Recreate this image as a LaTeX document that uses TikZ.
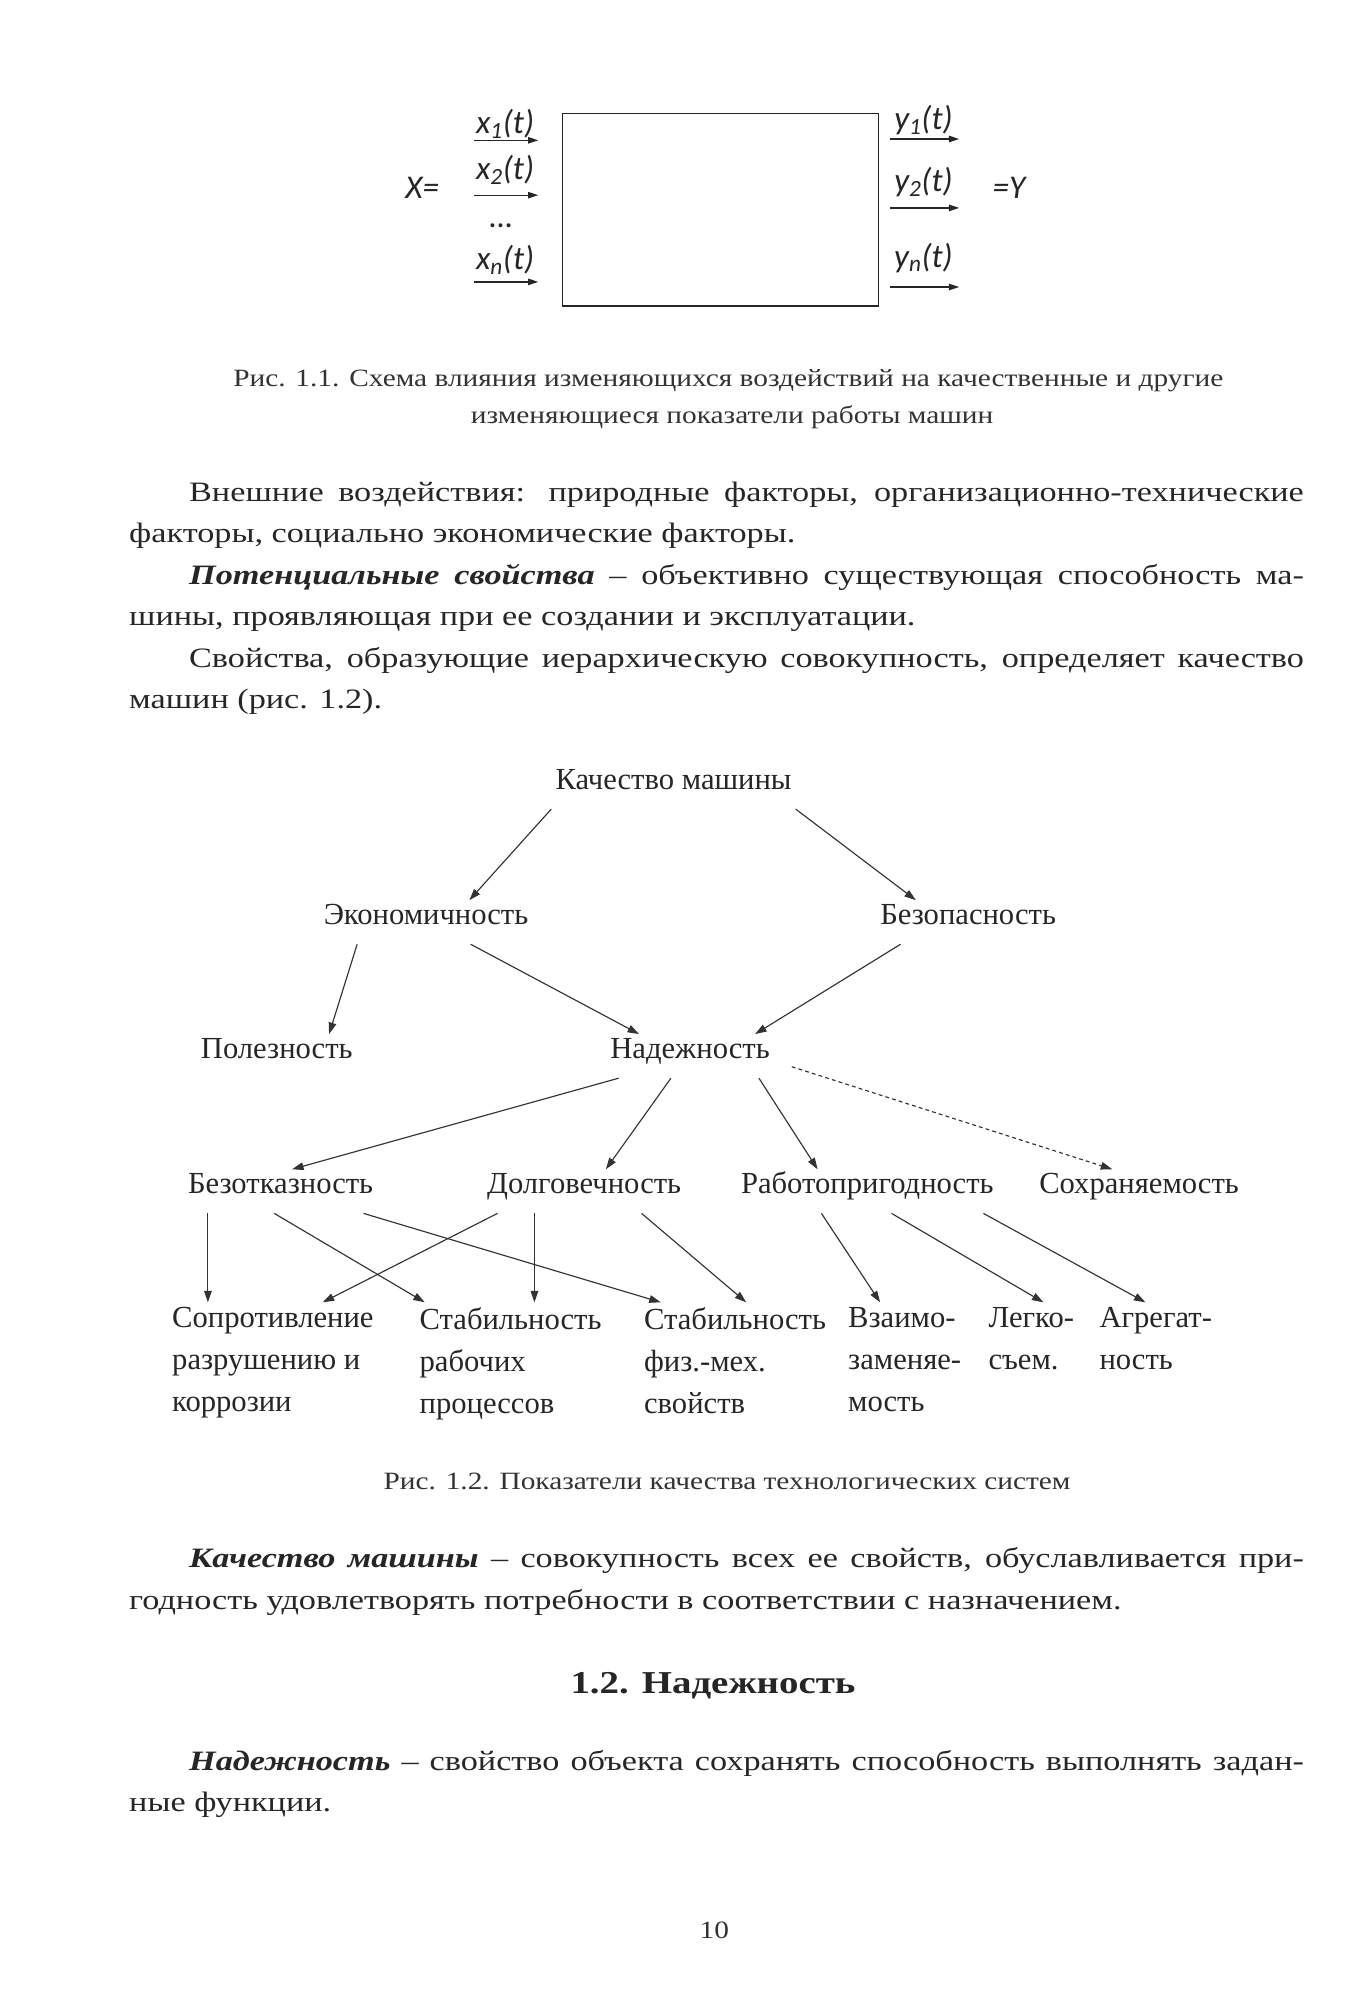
\documentclass[tikz,border=0pt]{standalone}
\usepackage{fontspec}
\setmainfont{Liberation Serif}[FakeStretch=1.22]
\newfontfamily\capfont{Liberation Serif}[FakeStretch=1.18]
\newfontfamily\figfont{Liberation Serif}
\newfontfamily\calibri{Carlito}
\usetikzlibrary{arrows.meta, positioning}

\begin{document}
\begin{tikzpicture}[
        x=1pt, y=-1pt,
        on grid,
        semithick,
        para/.style={inner sep=0, anchor=base west, text width=921pt, align=justify,
            text=black!85, font=\fontsize{22}{32.5}\selectfont},
        caption/.style={inner sep=0, anchor=base, text=black!80,
            font=\capfont\fontsize{19.5}{29}\selectfont},
        sig/.style={inner sep=0, text=black!85, font=\calibri\itshape\fontsize{26}{30}\selectfont},
        sigarr/.style={-{Triangle[length=8pt,width=5pt]}, color=black!85, line width=1pt},
        arr/.style={-{Triangle[length=9pt,width=6pt]}, color=black!80, line width=0.9pt},
        dashline/.style={arr, dash pattern=on 3pt off 2.5pt}
    ]

    \tikzstyle{item}=[
        inner xsep=3pt, inner ysep=0pt,
        text height=19pt, text depth=15pt,
        text=black!85,
        font=\figfont\fontsize{24}{33}\selectfont
    ]
    \tikzstyle{leaf}=[item, text height=, text depth=, inner sep=0pt,
        outer xsep=0pt, outer ysep=4pt, anchor=north west, align=left]

    \fill[white] (0,0) rectangle (1061,1568);
    \useasboundingbox (0,0) rectangle (1061,1568);

    % Fig. 1.1
    \node[draw=black!85, line width=1pt, inner sep=0,
        minimum width=248pt, minimum height=151pt] (blok) at (565,164.5) {};
    \node[sig] (xeq) at (331,147) {X=};
    \node[sig] (x1) at (396,97) {x\textsubscript{1}(t)};
    \node[sig] (x2) at (396,133) {x\textsubscript{2}(t)};
    \node[sig] (xdots) at (393,177) {\dots};
    \node[sig] (xn) at (396,204) {x\textsubscript{n}(t)};
    \node[sig] (y1) at (724,94) {y\textsubscript{1}(t)};
    \node[sig] (y2) at (724,143) {y\textsubscript{2}(t)};
    \node[sig] (yn) at (724,202) {y\textsubscript{n}(t)};
    \node[sig] (yeq) at (791,147) {=Y};
    \foreach \n/\y in {1/110, 2/153, n/221} {
        \coordinate (xa\n) at (372,\y);
        \coordinate (xb\n) at (422,\y);
        \draw[sigarr] (xa\n) -- (xb\n);
    }
    \foreach \n/\y in {1/109, 2/163, n/225} {
        \coordinate (ya\n) at (698,\y);
        \coordinate (yb\n) at (752,\y);
        \draw[sigarr] (ya\n) -- (yb\n);
    }
    \node[caption] (cap1a) at (571,303) {Рис. 1.1. Схема влияния изменяющихся воздействий на качественные и другие};
    \node[caption] (cap1b) at (574,332) {изменяющиеся показатели работы машин};

    % text before Fig. 1.2
    \node[para] (par1) at (101,393) {\hspace*{47pt}Внешние воздействия: природные факторы, организационно-технические\linebreak
        факторы, социально экономические факторы.};
    \node[para] (par2) at (101,458) {\hspace*{47pt}\textbf{\textit{Потенциальные свойства}} – объективно существующая способность ма-\linebreak
        шины, проявляющая при ее создании и эксплуатации.};
    \node[para] (par3) at (101,523) {\hspace*{47pt}Свойства, образующие иерархическую совокупность, определяет качество\linebreak
        машин (рис. 1.2).};

    % Fig. 1.2
    \node[item] (kach) at (528,617) {Качество машины};
    \node[item] (econ) [below left=106pt and 194pt of kach] {Экономичность};
    \node[item] (bez) [right=425pt of econ] {Безопасность};
    \node[item] (polez) [below left=105pt and 117pt of econ] {Полезность};
    \node[item] (nadezh) [right=324pt of polez] {Надежность};
    \node[item] (bezotk) [below left=106pt and 321pt of nadezh] {Безотказность};
    \node[item] (dolg) [right=238pt of bezotk] {Долговечность};
    \node[item] (rabot) [right=222pt of dolg] {Работопригодность};
    \node[item] (sohr) [right=213pt of rabot] {Сохраняемость};

    \node[leaf] (sopr) at (135,1021) {Сопротивление\\разрушению и\\коррозии};
    \node[leaf] (stab1) at (329,1021) {Стабильность\\рабочих\\процессов};
    \node[leaf] (stab2) at (505,1021) {Стабильность\\физ.-мех.\\свойств};
    \node[leaf] (vzaimo) at (665,1021) {Взаимо-\\заменяе-\\мость};
    \node[leaf] (legko) at (775,1021) {Легко-\\съем.};
    \node[leaf] (agreg) at (862,1021) {Агрегат-\\ность};

    \path[arr] (kach.south west) edge ([xshift=34pt]econ.north);
    \path[arr] (kach.south east) edge ([xshift=-41pt]bez.north);
    \path[arr] ([xshift=-54pt]econ.south) edge ([xshift=41pt]polez.north);
    \path[arr] ([xshift=35pt]econ.south) edge ([xshift=-40pt]nadezh.north);
    \path[arr] ([xshift=-53pt]bez.south) edge ([xshift=51pt]nadezh.north);

    \path[arr] ([xshift=-56pt]nadezh.south) edge ([xshift=9pt]bezotk.north);
    \path[arr] ([xshift=-15pt]nadezh.south) edge ([xshift=17pt]dolg.north);
    \path[arr] ([xshift=54pt]nadezh.south) edge ([xshift=-39pt]rabot.north);
    \path[dashline] ([xshift=14pt,yshift=9pt]nadezh.south east) edge ([xshift=-21pt]sohr.north);

    \path[arr] ([xshift=-57pt]bezotk.south) edge ([xshift=28pt]sopr.north west);
    \path[arr] ([xshift=-5pt]bezotk.south) edge ([xshift=4pt]stab1.north west);
    \path[arr] ([xshift=65pt]bezotk.south) edge ([xshift=13pt]stab2.north west);
    \path[arr] ([xshift=-68pt]dolg.south) edge ([xshift=118pt]sopr.north west);
    \path[arr] ([xshift=-39pt]dolg.south) edge ([xshift=90pt]stab1.north west);
    \path[arr] ([xshift=45pt]dolg.south) edge ([xshift=80pt]stab2.north west);
    \path[arr] ([xshift=-36pt]rabot.south) edge ([xshift=25pt]vzaimo.north west);
    \path[arr] ([xshift=19pt]rabot.south) edge ([xshift=43pt]legko.north west);
    \path[arr] ([xshift=91pt]rabot.south) edge ([xshift=36pt]agreg.north west);

    \node[caption] (cap2) at (570,1168) {Рис. 1.2. Показатели качества технологических систем};

    % text after Fig. 1.2
    \node[para] (par4) at (101,1229) {\hspace*{47pt}\textbf{\textit{Качество машины}} – совокупность всех ее свойств, обуславливается при-\linebreak
        годность удовлетворять потребности в соответствии с назначением.};
    \node[inner sep=0, anchor=base, text=black!85,
        font=\bfseries\fontsize{25}{32}\selectfont] (head) at (559,1328) {1.2. Надежность};
    \node[para] (par5) at (101,1388) {\hspace*{47pt}\textbf{\textit{Надежность}} – свойство объекта сохранять способность выполнять задан-\linebreak
        ные функции.};
    \node[caption] (pageno) at (560,1520) {10};

\end{tikzpicture}
\end{document}
